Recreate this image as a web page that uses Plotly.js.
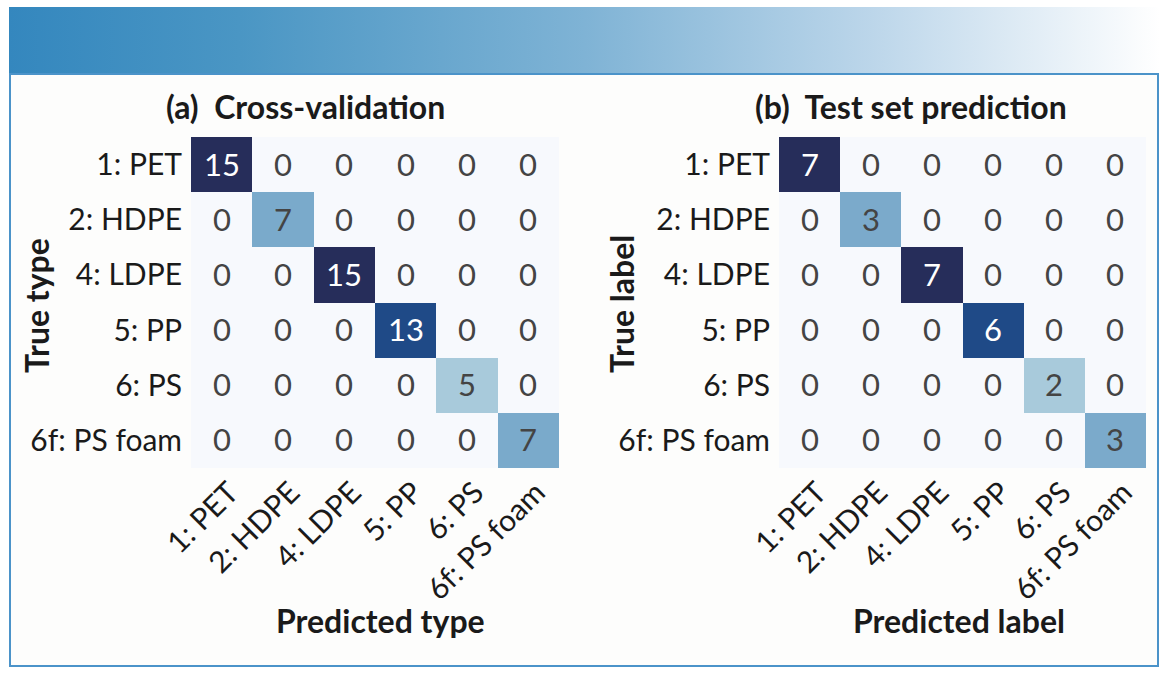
<!DOCTYPE html>
<html>
<head>
<meta charset="utf-8">
<script src="https://cdn.plot.ly/plotly-3.0.1.min.js"></script>
<style>
  html, body { margin: 0; padding: 0; background: #ffffff; }
  #wrap { position: relative; width: 1170px; height: 682px; overflow: hidden; }
  #band { position: absolute; left: 9px; top: 7px; width: 1151px; height: 66px;
          background: linear-gradient(to right, #3487be 0%, #4a96c4 20%, #7fb3d5 50%, #bcd6ea 75%, #ffffff 100%); }
  #frame { position: absolute; left: 9px; top: 73px; width: 1146px; height: 590px;
           border: 2px solid #4b93c9; background: #fdfdfc; }
  #chart { position: absolute; left: 0; top: 0; width: 1170px; height: 682px; }
</style>
</head>
<body>
<div id="wrap">
  <div id="band"></div>
  <div id="frame"></div>
  <div id="chart"></div>
</div>
<script>
// ---- data ----
const predictedLabels = ["1: PET", "2: HDPE", "4: LDPE", "5: PP", "6: PS", "6f: PS foam"];
const trueLabels = ["1: PET", "2: HDPE", "4: LDPE", "5: PP", "6: PS", "6f: PS foam"];
const crossValidation = [
  [15, 0, 0, 0, 0, 0],
  [0, 7, 0, 0, 0, 0],
  [0, 0, 15, 0, 0, 0],
  [0, 0, 0, 13, 0, 0],
  [0, 0, 0, 0, 5, 0],
  [0, 0, 0, 0, 0, 7]
];
const testSet = [
  [7, 0, 0, 0, 0, 0],
  [0, 3, 0, 0, 0, 0],
  [0, 0, 7, 0, 0, 0],
  [0, 0, 0, 6, 0, 0],
  [0, 0, 0, 0, 2, 0],
  [0, 0, 0, 0, 0, 3]
];
const titleA = "(a)\u00a0\u00a0Cross-validation";
const titleB = "(b)\u00a0\u00a0Test set prediction";

// ---- styles ----
const FONT = "Lato, 'Open Sans', sans-serif";
const scale = [
  [0, "#f7f9fd"], [0.2, "#dbe7f2"], [0.286, "#a8cadb"], [0.333, "#a8cadb"],
  [0.43, "#7aaacb"], [0.467, "#7aaacb"], [0.857, "#1f4a87"], [0.867, "#1f4a87"], [1, "#262d5a"]
];
function hm(z, xa, ya) {
  const mx = Math.max(...z.flat());
  return {
    type: "heatmap", z: z, x: predictedLabels, y: trueLabels,
    xaxis: xa, yaxis: ya, zmin: 0, zmax: mx,
    colorscale: scale, showscale: false,
    texttemplate: "%{z}", textfont: { family: FONT, size: 31 },
    hoverinfo: "skip"
  };
}
const tickFont = { family: FONT, size: 30, color: "#1a1a1a" };
const yDom = [1 - 468 / 682, 1 - 137 / 682];
function xax(dom) {
  return { domain: dom, tickangle: -45, tickfont: tickFont, showgrid: false, zeroline: false,
           showline: false, ticks: "", fixedrange: true, ticklabelstandoff: 0, ticklabelshift: 8 };
}
function yax(dom, anchor) {
  return { domain: dom, anchor: anchor, autorange: "reversed", tickfont: tickFont, showgrid: false,
           zeroline: false, showline: false, ticks: "", fixedrange: true, ticklabelstandoff: 8 };
}
const boldFont = { family: FONT, size: 32, color: "#1a1a1a", weight: "bold" };
const layout = {
  width: 1170, height: 682,
  margin: { l: 0, r: 0, t: 0, b: 0 },
  paper_bgcolor: "rgba(0,0,0,0)", plot_bgcolor: "rgba(0,0,0,0)",
  xaxis: Object.assign(xax([191 / 1170, 559 / 1170]), { anchor: "y" }),
  yaxis: yax(yDom, "x"),
  xaxis2: Object.assign(xax([779 / 1170, 1146 / 1170]), { anchor: "y2" }),
  yaxis2: yax(yDom, "x2"),
  annotations: [
    { text: "<b>" + titleA + "</b>", x: 305 / 1170, y: 1 - 107 / 682, xref: "paper", yref: "paper",
      showarrow: false, xanchor: "center", yanchor: "middle", font: boldFont },
    { text: "<b>" + titleB + "</b>", x: 911 / 1170, y: 1 - 107 / 682, xref: "paper", yref: "paper",
      showarrow: false, xanchor: "center", yanchor: "middle", font: boldFont },
    { text: "<b>Predicted type</b>", x: 380 / 1170, y: 1 - 620 / 682, xref: "paper", yref: "paper",
      showarrow: false, xanchor: "center", yanchor: "middle", font: boldFont },
    { text: "<b>Predicted label</b>", x: 959 / 1170, y: 1 - 620 / 682, xref: "paper", yref: "paper",
      showarrow: false, xanchor: "center", yanchor: "middle", font: boldFont },
    { text: "<b>True type</b>", x: 36 / 1170, y: 1 - 306 / 682, xref: "paper", yref: "paper",
      showarrow: false, xanchor: "center", yanchor: "middle", textangle: -90, font: boldFont },
    { text: "<b>True label</b>", x: 621 / 1170, y: 1 - 304 / 682, xref: "paper", yref: "paper",
      showarrow: false, xanchor: "center", yanchor: "middle", textangle: -90, font: boldFont }
  ]
};
Plotly.newPlot("chart", [hm(crossValidation, "x", "y"), hm(testSet, "x2", "y2")], layout,
  { displayModeBar: false, staticPlot: true });
</script>
</body>
</html>
